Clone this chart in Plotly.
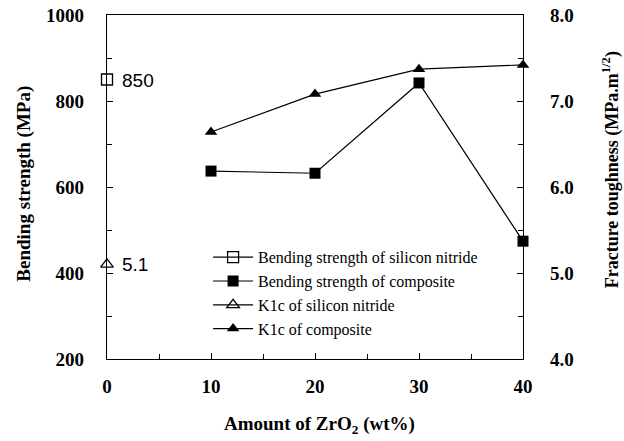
import plotly.graph_objects as go

zro2 = [10, 20, 30, 40]
bend_composite = [637, 632, 842, 474]
k1c_composite = [6.64, 7.08, 7.37, 7.42]
sn_x = [0]
bend_sn = [850]
k1c_sn = [5.1]

serif = "Liberation Serif"
fig = go.Figure()
fig.add_trace(go.Scatter(x=sn_x, y=bend_sn, mode="lines+markers", name="Bending strength of silicon nitride",
                         marker=dict(symbol="square-open", size=11, color="black", line=dict(width=1.3)),
                         line=dict(color="black", width=1.2), cliponaxis=False))
fig.add_trace(go.Scatter(x=zro2, y=bend_composite, mode="lines+markers", name="Bending strength of composite",
                         marker=dict(symbol="square", size=11, color="black"),
                         line=dict(color="black", width=1.2), cliponaxis=False))
fig.add_trace(go.Scatter(x=sn_x, y=k1c_sn, mode="lines+markers", name="K1c of silicon nitride", yaxis="y2",
                         marker=dict(symbol="triangle-up-open", size=11, color="black", line=dict(width=1.3)),
                         line=dict(color="black", width=1.2), cliponaxis=False))
fig.add_trace(go.Scatter(x=zro2, y=k1c_composite, mode="lines+markers", name="K1c of composite", yaxis="y2",
                         marker=dict(symbol="triangle-up", size=11, color="black"),
                         line=dict(color="black", width=1.2), cliponaxis=False))

fig.add_annotation(x=sn_x[0], y=bend_sn[0], text=str(bend_sn[0]), showarrow=False, xanchor="left", xshift=13,
                   yshift=-1, font=dict(family="Liberation Sans", size=19, color="black"))
fig.add_annotation(x=sn_x[0], y=k1c_sn[0], yref="y2", text=str(k1c_sn[0]), showarrow=False, xanchor="left", xshift=13,
                   font=dict(family="Liberation Sans", size=19, color="black"))

tickfont = dict(family=serif, size=19, color="black", weight="bold")
titlefont = dict(family=serif, size=19, color="black", weight="bold")

# axis titles as annotations for exact placement
fig.add_annotation(xref="paper", yref="paper", x=0.51, y=-0.192, text="Amount of ZrO<sub>2</sub> (wt%)",
                   showarrow=False, xanchor="center", yanchor="middle", font=titlefont)
fig.add_annotation(xref="paper", yref="paper", x=-0.2, y=0.509, text="Bending strength (MPa)", textangle=-90,
                   showarrow=False, xanchor="center", yanchor="middle", font=titlefont)
fig.add_annotation(xref="paper", yref="paper", x=1.212, y=0.549, text="Fracture toughness (MPa.m<sup>1/2</sup>)",
                   textangle=-90, showarrow=False, xanchor="center", yanchor="middle",
                   font=dict(family=serif, size=18, color="black", weight="bold"))

fig.update_layout(
    width=624, height=441, margin=dict(l=107, r=101, t=15, b=82, autoexpand=False),
    plot_bgcolor="white", paper_bgcolor="white", showlegend=True,
    legend=dict(x=0.243, y=0.345, xanchor="left", yanchor="top", bgcolor="rgba(0,0,0,0)",
                font=dict(family=serif, size=16, color="black"), tracegroupgap=0, itemwidth=40),
    xaxis=dict(range=[0, 40], tickvals=[0, 10, 20, 30, 40], ticks="inside", ticklen=6, tickcolor="black",
               minor=dict(dtick=5, ticks="inside", ticklen=5, tickcolor="black"),
               showline=True, linecolor="black", linewidth=1.2, mirror=True, showgrid=False, zeroline=False,
               tickfont=tickfont, ticklabelstandoff=10, automargin=False, ticklabeloverflow="allow"),
    yaxis=dict(range=[200, 1000], tickvals=[200, 400, 600, 800, 1000], ticks="inside", ticklen=6, tickcolor="black",
               minor=dict(dtick=100, ticks="inside", ticklen=5, tickcolor="black"),
               showline=True, linecolor="black", linewidth=1.2, showgrid=False, zeroline=False,
               tickfont=tickfont, ticklabelstandoff=18, automargin=False, ticklabeloverflow="allow"),
    yaxis2=dict(range=[4, 8], tickvals=[4, 5, 6, 7, 8], ticktext=["4.0", "5.0", "6.0", "7.0", "8.0"],
                overlaying="y", side="right", ticks="inside", ticklen=6, tickcolor="black",
                minor=dict(dtick=0.5, ticks="inside", ticklen=5, tickcolor="black"),
                showline=True, linecolor="black", linewidth=1.2, showgrid=False, zeroline=False,
                tickfont=tickfont, ticklabelstandoff=22, automargin=False, ticklabeloverflow="allow"),
)
fig.write_html("out.html", config={"displayModeBar": False},
               post_script="document.body.style.margin='0px';")
